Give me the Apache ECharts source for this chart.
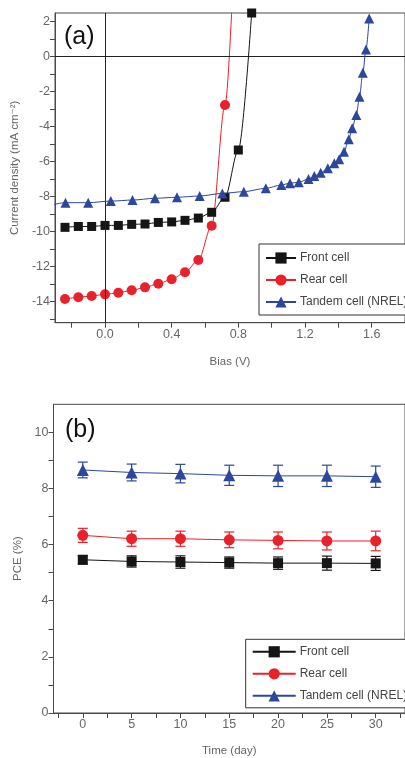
<!DOCTYPE html>
<html>
<head>
<meta charset="utf-8">
<script src="https://cdn.jsdelivr.net/npm/echarts@6/dist/echarts.min.js"></script>
<style>
  html, body { margin: 0; padding: 0; background: #fff; }
  #chart { width: 405px; height: 758px; }
</style>
</head>
<body>
<div id="chart"></div>
<script>
// ---- (a) J-V curves: bias (V) vs current density (mA cm^-2) ----
const frontBias = [-0.24, -0.16, -0.08, 0.00, 0.08, 0.16, 0.24, 0.32, 0.40, 0.48, 0.56, 0.64, 0.72, 0.80, 0.88];
const frontJ    = [-9.75, -9.70, -9.70, -9.64, -9.64, -9.58, -9.56, -9.47, -9.44, -9.35, -9.22, -8.89, -8.03, -5.33, 2.5];

const rearBias = [-0.24, -0.16, -0.08, 0.00, 0.08, 0.16, 0.24, 0.32, 0.40, 0.48, 0.56, 0.64, 0.72, 0.80];
const rearJ    = [-13.85, -13.75, -13.67, -13.58, -13.49, -13.35, -13.18, -12.97, -12.72, -12.32, -11.62, -9.66, -2.76, 11.6];

const tandemBias = [-0.32, -0.237, -0.101, 0.035, 0.165, 0.300, 0.432, 0.568, 0.704, 0.833, 0.965, 1.058, 1.110,
                    1.163, 1.221, 1.256, 1.294, 1.337, 1.376, 1.405, 1.434, 1.463, 1.483, 1.508, 1.527, 1.547, 1.566, 1.585];
const tandemJ    = [-8.47, -8.34, -8.34, -8.25, -8.19, -8.09, -8.03, -7.96, -7.81, -7.71, -7.52, -7.33, -7.23,
                    -7.17, -6.99, -6.82, -6.63, -6.38, -6.09, -5.86, -5.43, -4.72, -4.09, -3.33, -2.29, -0.91, 0.42, 2.19];

const biasLabels = [0, 0.4, 0.8, 1.2, 1.6];
const biasTicks  = [-0.2, 0, 0.2, 0.4, 0.6, 0.8, 1.0, 1.2, 1.4, 1.6];
const jLabels    = [-14, -12, -10, -8, -6, -4, -2, 0, 2];
const jTicks     = [-15, -14, -13, -12, -11, -10, -9, -8, -7, -6, -5, -4, -3, -2, -1, 0, 1, 2];

// ---- (b) stability: time (day) vs PCE (%) ----
const days      = [0, 5, 10, 15, 20, 25, 30];
const pceFront  = [5.46, 5.40, 5.38, 5.36, 5.34, 5.34, 5.33];
const errFront  = [0.15, 0.20, 0.22, 0.20, 0.22, 0.25, 0.25];
const pceRear   = [6.33, 6.21, 6.21, 6.17, 6.15, 6.13, 6.13];
const errRear   = [0.25, 0.27, 0.27, 0.28, 0.30, 0.32, 0.35];
const pceTandem = [8.66, 8.57, 8.53, 8.47, 8.45, 8.45, 8.42];
const errTandem = [0.28, 0.30, 0.33, 0.36, 0.38, 0.38, 0.38];

const dayLabels = [0, 5, 10, 15, 20, 25, 30];
const dayTicks  = [-2.5, 0, 2.5, 5, 7.5, 10, 12.5, 15, 17.5, 20, 22.5, 25, 27.5, 30, 32.5];
const pceLabels = [0, 2, 4, 6, 8, 10];
const pceTicks  = [0, 1, 2, 3, 4, 5, 6, 7, 8, 9, 10];

const seriesNames = ['Front cell', 'Rear cell', 'Tandem cell (NREL)'];
const colors = { front: '#151515', rear: '#e8212b', tandem: '#2c479c' };

const FONT = "'Liberation Sans', 'DejaVu Sans', sans-serif";
const AXIS_COLOR = '#4a4a4a';
const LABEL_COLOR = '#666';

const zip = (xs, ys) => xs.map((x, i) => [x, ys[i]]);

function axisCommon(labelVals, tickVals, fmt) {
  return {
    axisLine: { show: true, onZero: false, lineStyle: { color: AXIS_COLOR, width: 1 } },
    axisTick: { show: true, inside: false, length: 5, customValues: tickVals, lineStyle: { color: AXIS_COLOR } },
    axisLabel: { show: true, customValues: labelVals, color: LABEL_COLOR, fontSize: 12.5, fontFamily: FONT,
                 margin: 5, formatter: fmt },
    splitLine: { show: false },
    nameTextStyle: { color: LABEL_COLOR, fontSize: 11.5, fontFamily: FONT }
  };
}

function errorSeries(name, color, xs, ys, errs) {
  return {
    type: 'custom',
    name: name,
    xAxisIndex: 1, yAxisIndex: 1,
    z: 1,
    silent: true,
    data: xs.map((x, i) => [x, ys[i] - errs[i], ys[i] + errs[i]]),
    renderItem: function (params, api) {
      const lo = api.coord([api.value(0), api.value(1)]);
      const hi = api.coord([api.value(0), api.value(2)]);
      const cap = 5;
      const st = { stroke: color, lineWidth: 1.2 };
      return {
        type: 'group',
        children: [
          { type: 'line', shape: { x1: lo[0], y1: lo[1], x2: hi[0], y2: hi[1] }, style: st },
          { type: 'line', shape: { x1: lo[0] - cap, y1: lo[1], x2: lo[0] + cap, y2: lo[1] }, style: st },
          { type: 'line', shape: { x1: hi[0] - cap, y1: hi[1], x2: hi[0] + cap, y2: hi[1] }, style: st }
        ]
      };
    }
  };
}

function legendBlock(left, top, itemWidth, padTop, padBottom) {
  return {
    data: seriesNames,
    orient: 'vertical',
    left: left, top: top,
    itemWidth: itemWidth, itemHeight: 14, itemGap: 10,
    padding: [padTop, 30, padBottom, 6],
    borderColor: '#333', borderWidth: 1,
    backgroundColor: '#fff',
    textStyle: { color: '#444', fontSize: 12, fontFamily: FONT, padding: [0, 0, 0, -1] },
    selectedMode: false
  };
}

const chart = echarts.init(document.getElementById('chart'), null, { renderer: 'canvas' });

const option = {
  animation: false,
  backgroundColor: '#fff',
  grid: [
    { left: 55, top: 13, width: 361, height: 309.7, show: true, borderColor: AXIS_COLOR, borderWidth: 1, backgroundColor: 'transparent' },
    { left: 53.5, top: 404.3, width: 362.5, height: 311.4, show: true, borderColor: AXIS_COLOR, borderWidth: 1, backgroundColor: 'transparent' }
  ],
  xAxis: [
    Object.assign(axisCommon(biasLabels, biasTicks, v => v.toFixed(1)), {
      type: 'value', gridIndex: 0, min: -0.3, max: 1.8,
      name: 'Bias (V)', nameLocation: 'middle', nameGap: 33
    }),
    Object.assign(axisCommon(dayLabels, dayTicks, v => String(v)), {
      type: 'value', gridIndex: 1, min: -3, max: 33,
      name: 'Time (day)', nameLocation: 'middle', nameGap: 32
    })
  ],
  yAxis: [
    Object.assign(axisCommon(jLabels, jTicks, v => String(v)), {
      type: 'value', gridIndex: 0, min: -15.2, max: 2.5,
      name: 'Current density (mA cm\u207B\u00B2)', nameLocation: 'middle', nameGap: 28
    }),
    Object.assign(axisCommon(pceLabels, pceTicks, v => String(v)), {
      type: 'value', gridIndex: 1, min: 0, max: 11,
      name: 'PCE (%)', nameLocation: 'middle', nameGap: 28
    })
  ],
  legend: [
    legendBlock(259, 244, 30, 8, 7),
    legendBlock(245.7, 639.3, 43, 6.5, 6)
  ],
  graphic: [
    { type: 'text', left: 64, top: 25, style: { text: '(a)', fontSize: 25, fontFamily: "'Liberation Sans', sans-serif", fill: '#111' } },
    { type: 'text', left: 65, top: 418, style: { text: '(b)', fontSize: 25, fontFamily: "'Liberation Sans', sans-serif", fill: '#111' } }
  ],
  series: [
    // (a)
    {
      name: seriesNames[0], type: 'line', xAxisIndex: 0, yAxisIndex: 0,
      data: zip(frontBias, frontJ), smooth: 0.3, smoothMonotone: 'x',
      symbol: 'rect', symbolSize: 9, z: 4,
      lineStyle: { color: colors.front, width: 1 }, itemStyle: { color: colors.front },
      markLine: {
        silent: true, symbol: 'none', label: { show: false },
        lineStyle: { color: '#222', width: 1, type: 'solid' },
        data: [{ yAxis: 0 }, { xAxis: 0 }]
      }
    },
    {
      name: seriesNames[1], type: 'line', xAxisIndex: 0, yAxisIndex: 0,
      data: zip(rearBias, rearJ), smooth: 0.3, smoothMonotone: 'x',
      symbol: 'circle', symbolSize: 10, z: 3,
      lineStyle: { color: colors.rear, width: 1 }, itemStyle: { color: colors.rear }
    },
    {
      name: seriesNames[2], type: 'line', xAxisIndex: 0, yAxisIndex: 0,
      data: zip(tandemBias, tandemJ), smooth: 0.3, smoothMonotone: 'x',
      symbol: 'triangle', symbolSize: 10, z: 5,
      lineStyle: { color: colors.tandem, width: 1 }, itemStyle: { color: colors.tandem }
    },
    // (b)
    errorSeries('errFront', colors.front, days, pceFront, errFront),
    errorSeries('errRear', colors.rear, days, pceRear, errRear),
    errorSeries('errTandem', colors.tandem, days, pceTandem, errTandem),
    {
      name: seriesNames[0], type: 'line', xAxisIndex: 1, yAxisIndex: 1,
      data: zip(days, pceFront), symbol: 'rect', symbolSize: 10, z: 4,
      lineStyle: { color: colors.front, width: 1 }, itemStyle: { color: colors.front }
    },
    {
      name: seriesNames[1], type: 'line', xAxisIndex: 1, yAxisIndex: 1,
      data: zip(days, pceRear), symbol: 'circle', symbolSize: 11, z: 4,
      lineStyle: { color: colors.rear, width: 1 }, itemStyle: { color: colors.rear }
    },
    {
      name: seriesNames[2], type: 'line', xAxisIndex: 1, yAxisIndex: 1,
      data: zip(days, pceTandem), symbol: 'triangle', symbolSize: 12, z: 4,
      lineStyle: { color: colors.tandem, width: 1 }, itemStyle: { color: colors.tandem }
    }
  ]
};

chart.setOption(option);
</script>
</body>
</html>
